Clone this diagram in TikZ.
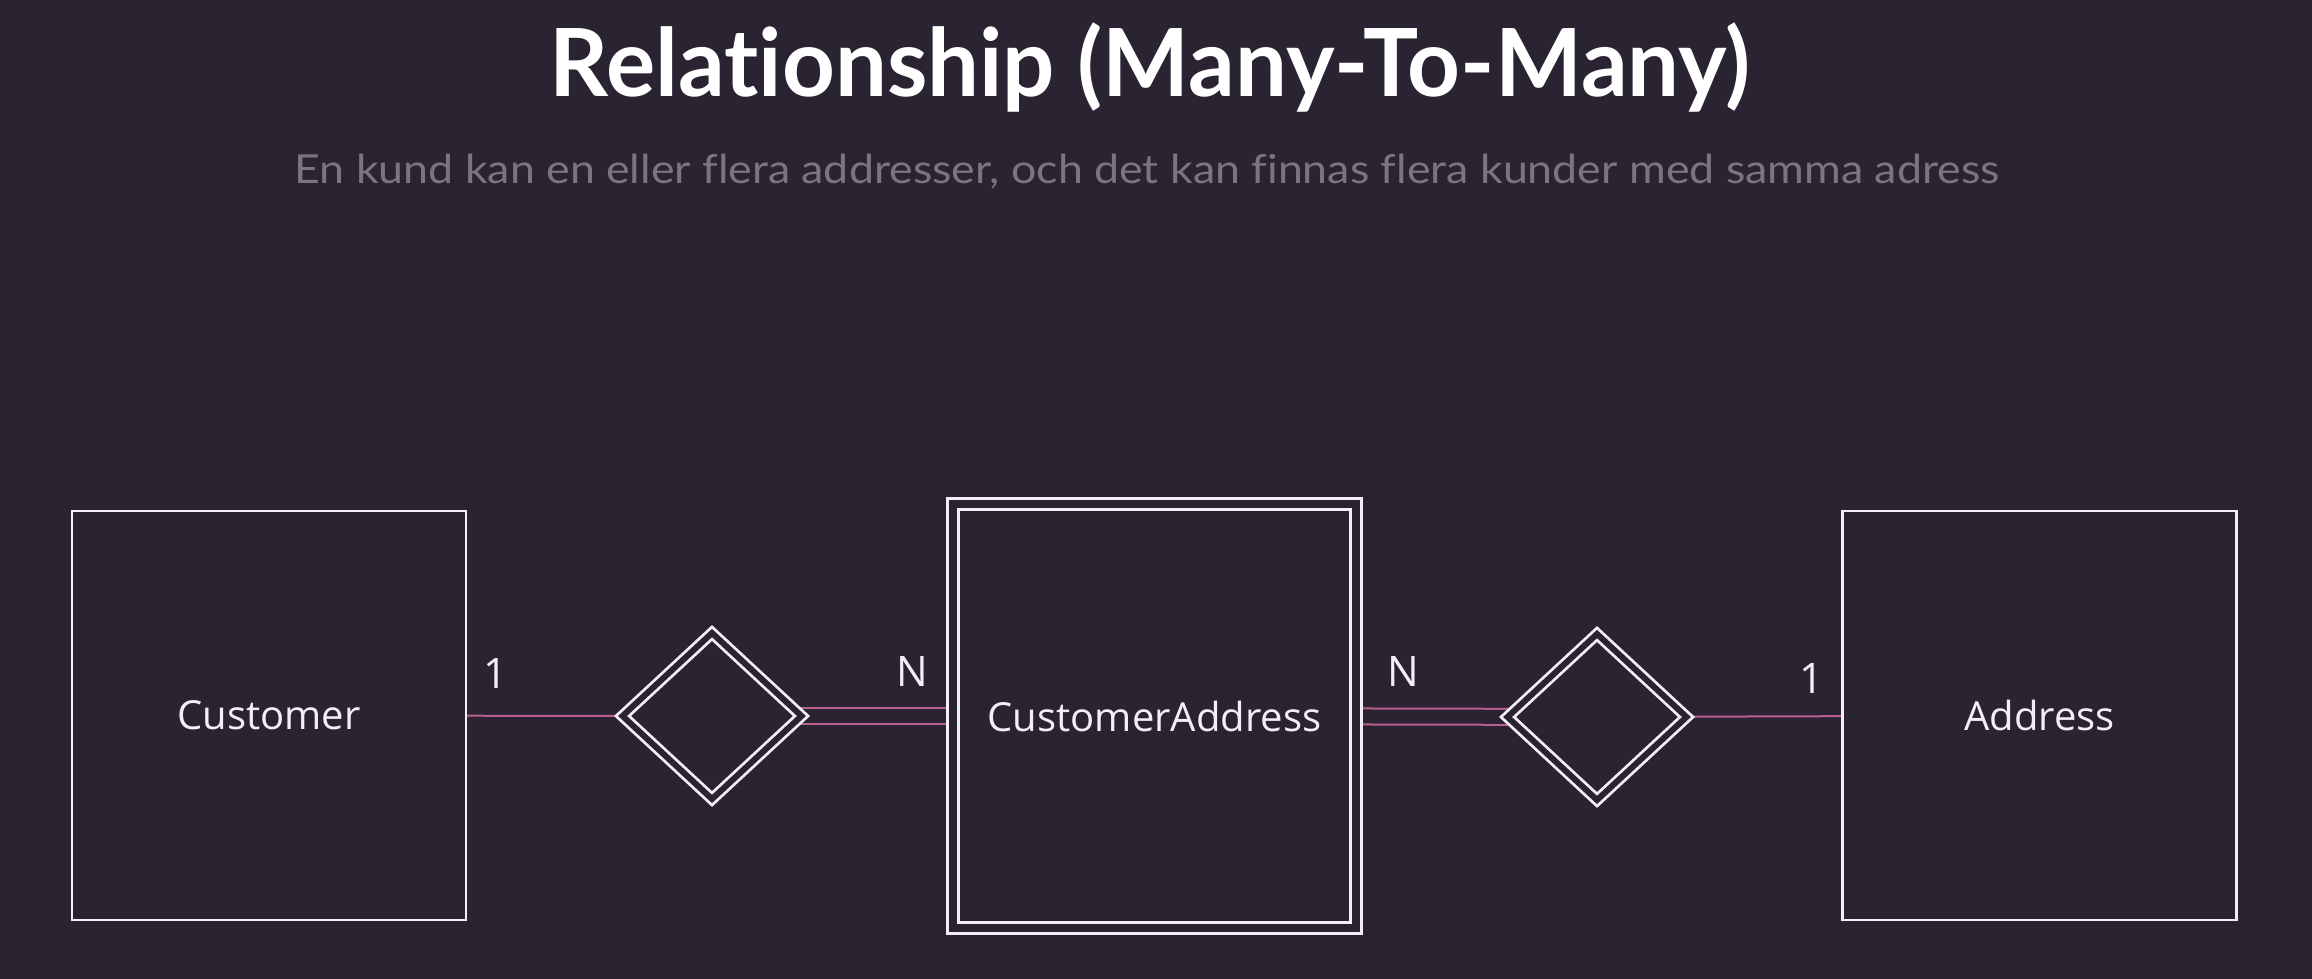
\documentclass[tikz,border=0pt]{standalone}
\usepackage{graphicx}
\usepackage{fontspec}
\setmainfont{Open Sans}
\newfontfamily\titlefont{Lato}[Ligatures={NoCommon}]
\usetikzlibrary{shapes.geometric}
\pgfdeclarelayer{back}
\pgfsetlayers{back,main}
\definecolor{bgc}{HTML}{2A2432}
\definecolor{linec}{HTML}{F3EEF7}
\definecolor{relc}{HTML}{B8618F}
\definecolor{subc}{HTML}{7B7581}
\begin{document}
\begin{tikzpicture}[x=1pt,y=-1pt,
  entity/.style={draw=linec, line width=2.8pt, fill=bgc, minimum width=394pt, minimum height=409pt, inner sep=0pt, text=linec, font=\fontsize{40}{48}\selectfont},
  weakentity/.style={entity, double=bgc, double distance=8pt, line width=2.8pt, minimum width=403pt, minimum height=424pt},
  relbox/.style={diamond, draw=linec, double=bgc, line width=2.8pt, double distance=6pt, fill=bgc, minimum width=179pt, minimum height=166pt, inner sep=0pt, outer sep=0pt},
  relline/.style={draw=relc, line width=2pt},
  dblline/.style={relline, double=bgc, double distance=14pt},
  card/.style={anchor=base, text=linec, font=\fontsize{42}{50}\selectfont, inner sep=0pt}]
\useasboundingbox (0,0) rectangle (2312,979);

\node[anchor=base, text=white, inner sep=0pt, font=\titlefont\bfseries\fontsize{94}{110}\selectfont] (title) at (1150,97) {\resizebox{1200pt}{\height}{Relationship (Many-To-Many)}};
\node[anchor=base, text=subc, inner sep=0pt, font=\titlefont\fontsize{40}{48}\selectfont] (sub) at (1147,183) {\resizebox{1705pt}{\height}{En kund kan en eller flera addresser, och det kan finnas flera kunder med samma adress}};

\node[entity] (cust) at (269,715.5) {Customer};
\node[weakentity] (ca) at (1154.5,716) {CustomerAddress};
\node[entity] (addr) at (2039.5,715.5) {Address};
\node[relbox] (r1) at (712,716) {};
\node[relbox] (r2) at (1597,717) {};

\begin{pgfonlayer}{back}
\fill[bgc] (0,0) rectangle (2312,979);
\draw[relline] (cust.center) -- (r1.center);
\draw[dblline] (r1.center) -- (ca.center);
\draw[dblline] (ca.center) -- (r2.center);
\draw[relline] (r2.center) -- (addr.center);
\end{pgfonlayer}

\node[card] (c1) at (496,688) {1};
\node[card] (c2) at (912,686) {N};
\node[card] (c3) at (1403,686) {N};
\node[card] (c4) at (1811,693) {1};
\end{tikzpicture}
\end{document}
